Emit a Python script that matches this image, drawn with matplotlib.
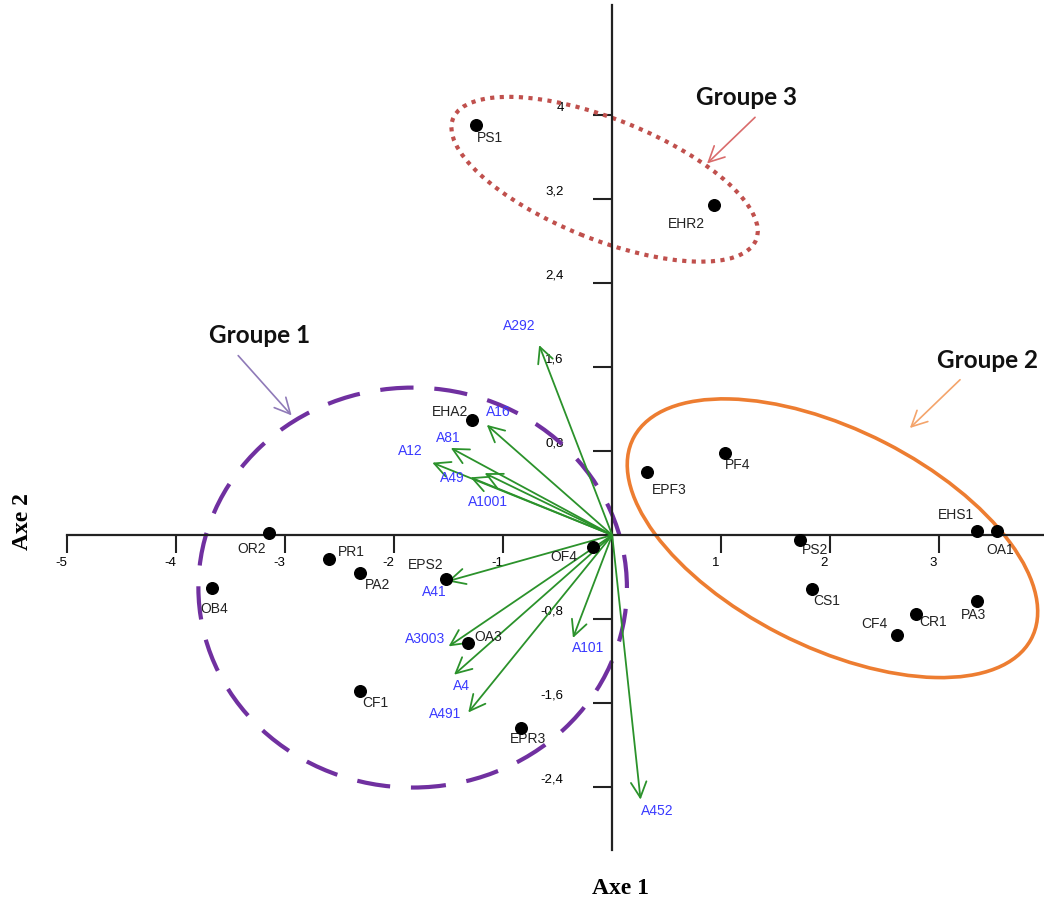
import matplotlib
matplotlib.use("Agg")
import matplotlib.pyplot as plt
from matplotlib.patches import Ellipse
from matplotlib.transforms import ScaledTranslation

# individus (coordonnees sur Axe 1 / Axe 2)
ind_names = ["PS1", "EHR2", "EHA2", "EPF3", "PF4", "EHS1", "OA1", "PS2", "CS1", "CR1",
             "PA3", "CF4", "OF4", "OR2", "PR1", "PA2", "OB4", "CF1", "EPS2", "OA3", "EPR3"]
ind_x = [-1.25, 0.93, -1.29, 0.32, 1.03, 3.35, 3.53, 1.72, 1.83, 2.79,
         3.35, 2.61, -0.18, -3.15, -2.60, -2.31, -3.67, -2.31, -1.52, -1.32, -0.84]
ind_y = [3.91, 3.14, 1.10, 0.60, 0.78, 0.04, 0.04, -0.05, -0.51, -0.75,
         -0.63, -0.95, -0.11, 0.02, -0.23, -0.36, -0.50, -1.49, -0.42, -1.03, -1.84]

# variables (fleches)
var_names = ["A292", "A16", "A81", "A12", "A49", "A1001", "A41", "A3003", "A4", "A491", "A101", "A452"]
var_x = [-0.67, -1.15, -1.48, -1.65, -1.30, -1.17, -1.51, -1.50, -1.45, -1.32, -0.36, 0.26]
var_y = [1.81, 1.05, 0.83, 0.69, 0.55, 0.59, -0.44, -1.06, -1.33, -1.69, -0.98, -2.52]

xticks = [-5, -4, -3, -2, -1, 1, 2, 3]
yticks = [-2.4, -1.6, -0.8, 0.8, 1.6, 2.4, 3.2, 4]
ytick_labels = ["-2,4", "-1,6", "-0,8", "0,8", "1,6", "2,4", "3,2", "4"]

# decalage des etiquettes en pixels (dx, dy vers le bas)
ind_off = [(14, 13), (-27, 19), (-21, -8), (22, 18), (13, 12), (-22, -16), (3, 19), (15, 10),
           (15, 12), (17, 8), (-4, 14), (-22, -11), (-29, 10), (-17, 16), (23, -7), (17, 12),
           (2, 21), (15, 12), (-21, -14), (20, -6), (7, 11)]
var_off = [(-20, -19), (11, -13), (-3, -10), (-22, -12), (-18, 1), (3, 29), (-13, 11),
           (-24, -7), (7, 11), (-23, 2), (15, 10), (17, 11)]

W, H = 1044, 901
fig = plt.figure(figsize=(W / 100, H / 100), dpi=100)
ax = fig.add_axes([67 / W, (H - 850) / H, 1 - 67 / W, (850 - 5) / H])
ax.set_xlim(-5, 3.96)
ax.set_ylim(-3.0, 5.05)

for s in ["top", "right"]:
    ax.spines[s].set_visible(False)
ax.spines["left"].set_position(("data", 0))
ax.spines["bottom"].set_position(("data", 0))
for s in ["left", "bottom"]:
    ax.spines[s].set_linewidth(1.6)
    ax.spines[s].set_color("#222222")

lab_font = "Liberation Sans"
ax.set_xticks(xticks)
ax.set_xticklabels([str(t) for t in xticks])
ax.set_yticks(yticks)
ax.set_yticklabels(ytick_labels)
ax.tick_params(axis="x", direction="out", length=13, width=1.5, color="#222222",
               pad=3, labelsize=9.5)
ax.tick_params(axis="y", direction="out", length=14, width=1.5, color="#222222",
               pad=21, labelsize=9.5)
for lab in ax.get_xticklabels():
    lab.set_fontfamily(lab_font)
    lab.set_transform(lab.get_transform() + ScaledTranslation(-6 / 100, 0, fig.dpi_scale_trans))
for lab in ax.get_yticklabels():
    lab.set_fontfamily(lab_font)
    lab.set_transform(lab.get_transform() + ScaledTranslation(0, 9 / 100, fig.dpi_scale_trans))

# ellipses des groupes
ax.add_patch(Ellipse((-1.83, -0.50), 3.93, 3.81, fill=False, ec="#7030a0", lw=3,
                     ls=(0, (8, 5)), zorder=2))
ax.add_patch(Ellipse((2.02, -0.03), 4.12, 2.06, angle=-28.0, fill=False, ec="#ed7d31",
                     lw=2.6, zorder=2))
ax.add_patch(Ellipse((-0.07, 3.39), 3.01, 1.14, angle=-22.8, fill=False, ec="#c0504d",
                     lw=3, ls=(0, (1, 1.3)), zorder=2))

# fleches des variables
green = "#2b922b"
for name, x, y, (dx, dy) in zip(var_names, var_x, var_y, var_off):
    ax.annotate("", xy=(x, y), xytext=(0, 0),
                arrowprops=dict(arrowstyle="->,head_length=0.8,head_width=0.4",
                                color=green, lw=1.3, mutation_scale=14,
                                shrinkA=0, shrinkB=0), zorder=3)
    ax.annotate(name, xy=(x, y), xytext=(dx, -dy), textcoords="offset pixels",
                ha="center", va="center", fontsize=10, color="#3a3aff", family=lab_font)

# individus
ax.scatter(ind_x, ind_y, s=70, color="black", zorder=4)
for name, x, y, (dx, dy) in zip(ind_names, ind_x, ind_y, ind_off):
    ax.annotate(name, xy=(x, y), xytext=(dx, -dy), textcoords="offset pixels",
                ha="center", va="center", fontsize=10, color="#222222", family=lab_font)

# libelles des groupes
grp_font = dict(fontsize=17.5, fontweight="bold", family="Lato", color="#111111",
                ha="center", va="center")
ax.text(-3.23, 1.90, "Groupe 1", **grp_font)
ax.text(3.44, 1.66, "Groupe 2", **grp_font)
ax.text(1.23, 4.17, "Groupe 3", **grp_font)
arr = dict(arrowstyle="->,head_length=0.8,head_width=0.4", lw=1.2, mutation_scale=14,
           shrinkA=0, shrinkB=0)
ax.annotate("", xy=(-2.94, 1.14), xytext=(-3.43, 1.71), arrowprops=dict(arr, color="#8f7ab8"))
ax.annotate("", xy=(2.73, 1.02), xytext=(3.19, 1.48), arrowprops=dict(arr, color="#f4a46b"))
ax.annotate("", xy=(0.87, 3.54), xytext=(1.31, 3.98), arrowprops=dict(arr, color="#d96b6b"))

# titres des axes
fig.text(620 / W, 1 - 889 / H, "Axe 1", ha="center", va="center", fontsize=17,
         fontweight="bold", family="Liberation Serif")
fig.text(22 / W, 1 - 522 / H, "Axe 2", ha="center", va="center", rotation=90, fontsize=17,
         fontweight="bold", family="Liberation Serif")

fig.savefig("out.png", dpi=100)
